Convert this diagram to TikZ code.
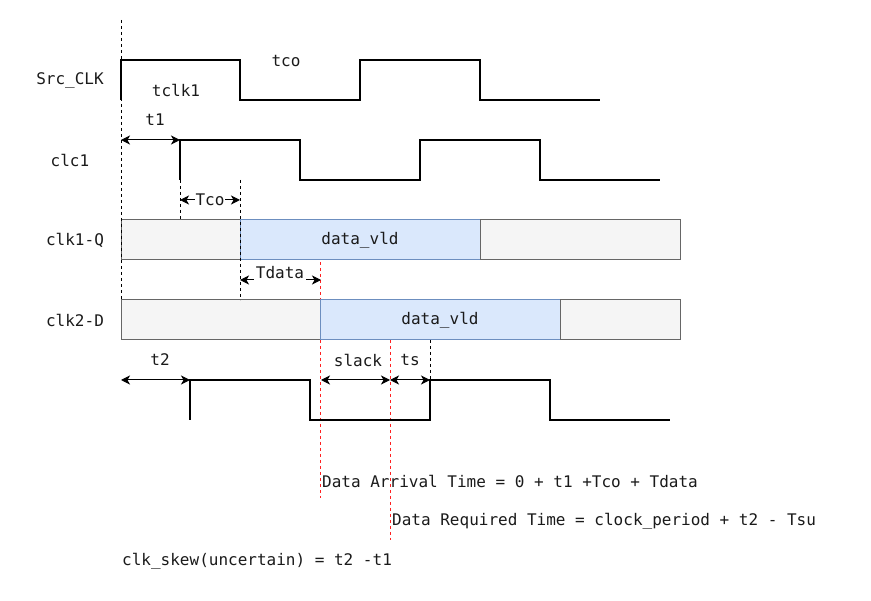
\documentclass[tikz,border=0pt]{standalone}
\usepackage{fontspec}
\setmonofont{DejaVu Sans Mono}
\usetikzlibrary{arrows.meta}
\definecolor{grayfill}{HTML}{F5F5F5}
\definecolor{graystroke}{HTML}{666666}
\definecolor{bluefill}{HTML}{DAE8FC}
\definecolor{bluestroke}{HTML}{6C8EBF}
\definecolor{redguide}{HTML}{FF2020}
\definecolor{txtcol}{HTML}{1A1A1A}
\begin{document}
\begin{tikzpicture}[x=1pt,y=-1pt,
  wave/.style={line width=2pt, black},
  dim/.style={{Stealth[length=9pt,width=9pt,inset=2.5pt]}-{Stealth[length=9pt,width=9pt,inset=2.5pt]}, line width=1pt},
  guide/.style={line width=0.9pt, dash pattern=on 3pt off 3pt},
  rguide/.style={line width=1.1pt, draw=redguide, dash pattern=on 3pt off 3pt},
  graybox/.style={draw=graystroke, fill=grayfill, line width=1pt},
  bluebox/.style={draw=bluestroke, fill=bluefill, line width=1pt},
  txt/.style={font=\ttfamily\fontsize{16}{19}\selectfont, text=txtcol, inner sep=1pt},
  lbl/.style={txt, fill=white, inner sep=1pt}]
\useasboundingbox (0,0) rectangle (871,601);

% red guides (behind boxes)
\draw[rguide] (320.5,262) -- (320.5,498);
\draw[rguide] (390.5,340) -- (390.5,540);

% boxes
\draw[graybox] (121,220) rectangle (240,260);
\draw[bluebox] (240,220) rectangle (480,260);
\draw[graybox] (480,220) rectangle (680,260);
\draw[graybox] (121,300) rectangle (320,340);
\draw[bluebox] (320,300) rectangle (560,340);
\draw[graybox] (560,300) rectangle (680,340);
\node[txt] (dv1) at (360,240) {data\_vld};
\node[txt] (dv2) at (440,320) {data\_vld};

% guides
\draw[guide] (121,20) -- (121,300);
\draw[guide] (180,180) -- (180,220);
\draw[guide] (240,180) -- (240,300);
\draw[guide] (430,340) -- (430,380);

% waveforms
\draw[wave] (121,100) -- (121,60) -- (240,60) -- (240,100) -- (360,100) -- (360,60) -- (480,60) -- (480,100) -- (600,100);
\draw[wave] (180,180) -- (180,140) -- (300,140) -- (300,180) -- (420,180) -- (420,140) -- (540,140) -- (540,180) -- (660,180);
\draw[wave] (190,420) -- (190,380) -- (310,380) -- (310,420) -- (430,420) -- (430,380) -- (550,380) -- (550,420) -- (670,420);

% dimension coordinates
\coordinate (a0) at (121,140);
\coordinate (a1) at (180,140);
\coordinate (b0) at (180,200);
\coordinate (b1) at (240,200);
\coordinate (c0) at (240,280);
\coordinate (c1) at (321,280);
\coordinate (d0) at (121,380);
\coordinate (d1) at (190,380);
\coordinate (e0) at (321,380);
\coordinate (e1) at (390,380);
\coordinate (f1) at (430,380);

\draw[dim] (a0) -- (a1);
\draw[dim] (b0) -- (b1);
\draw[dim] (c0) -- (c1);
\draw[dim] (d0) -- (d1);
\draw[dim] (e0) -- (e1);
\draw[dim] (e1) -- (f1);

% labels
\node[lbl, inner sep=0.5pt] (tco2) at (210,200) {Tco};
\node[lbl, inner xsep=2pt, minimum height=24pt] (tdata) at (280,273) {Tdata};
\node[txt] (src) at (70,80) {Src\_CLK};
\node[txt] (clc) at (70,160) {clc1};
\node[txt] (q) at (75,240) {clk1-Q};
\node[txt] (d) at (75,320) {clk2-D};
\node[txt] (tclk) at (176,90) {tclk1};
\node[txt] (tco) at (286,61) {tco};
\node[txt] (t1) at (155,120) {t1};
\node[txt] (t2) at (160,360) {t2};
\node[txt] (slack) at (358,360) {slack};
\node[txt] (ts) at (410,360) {ts};
\node[txt, anchor=west] (arr) at (321,481) {Data Arrival Time = 0 + t1 +Tco + Tdata};
\node[txt, anchor=west] (req) at (391,521) {Data Required Time = clock\_period + t2 - Tsu};
\node[txt, anchor=west] (skew) at (121,561) {clk\_skew(uncertain) = t2 -t1};
\end{tikzpicture}
\end{document}
